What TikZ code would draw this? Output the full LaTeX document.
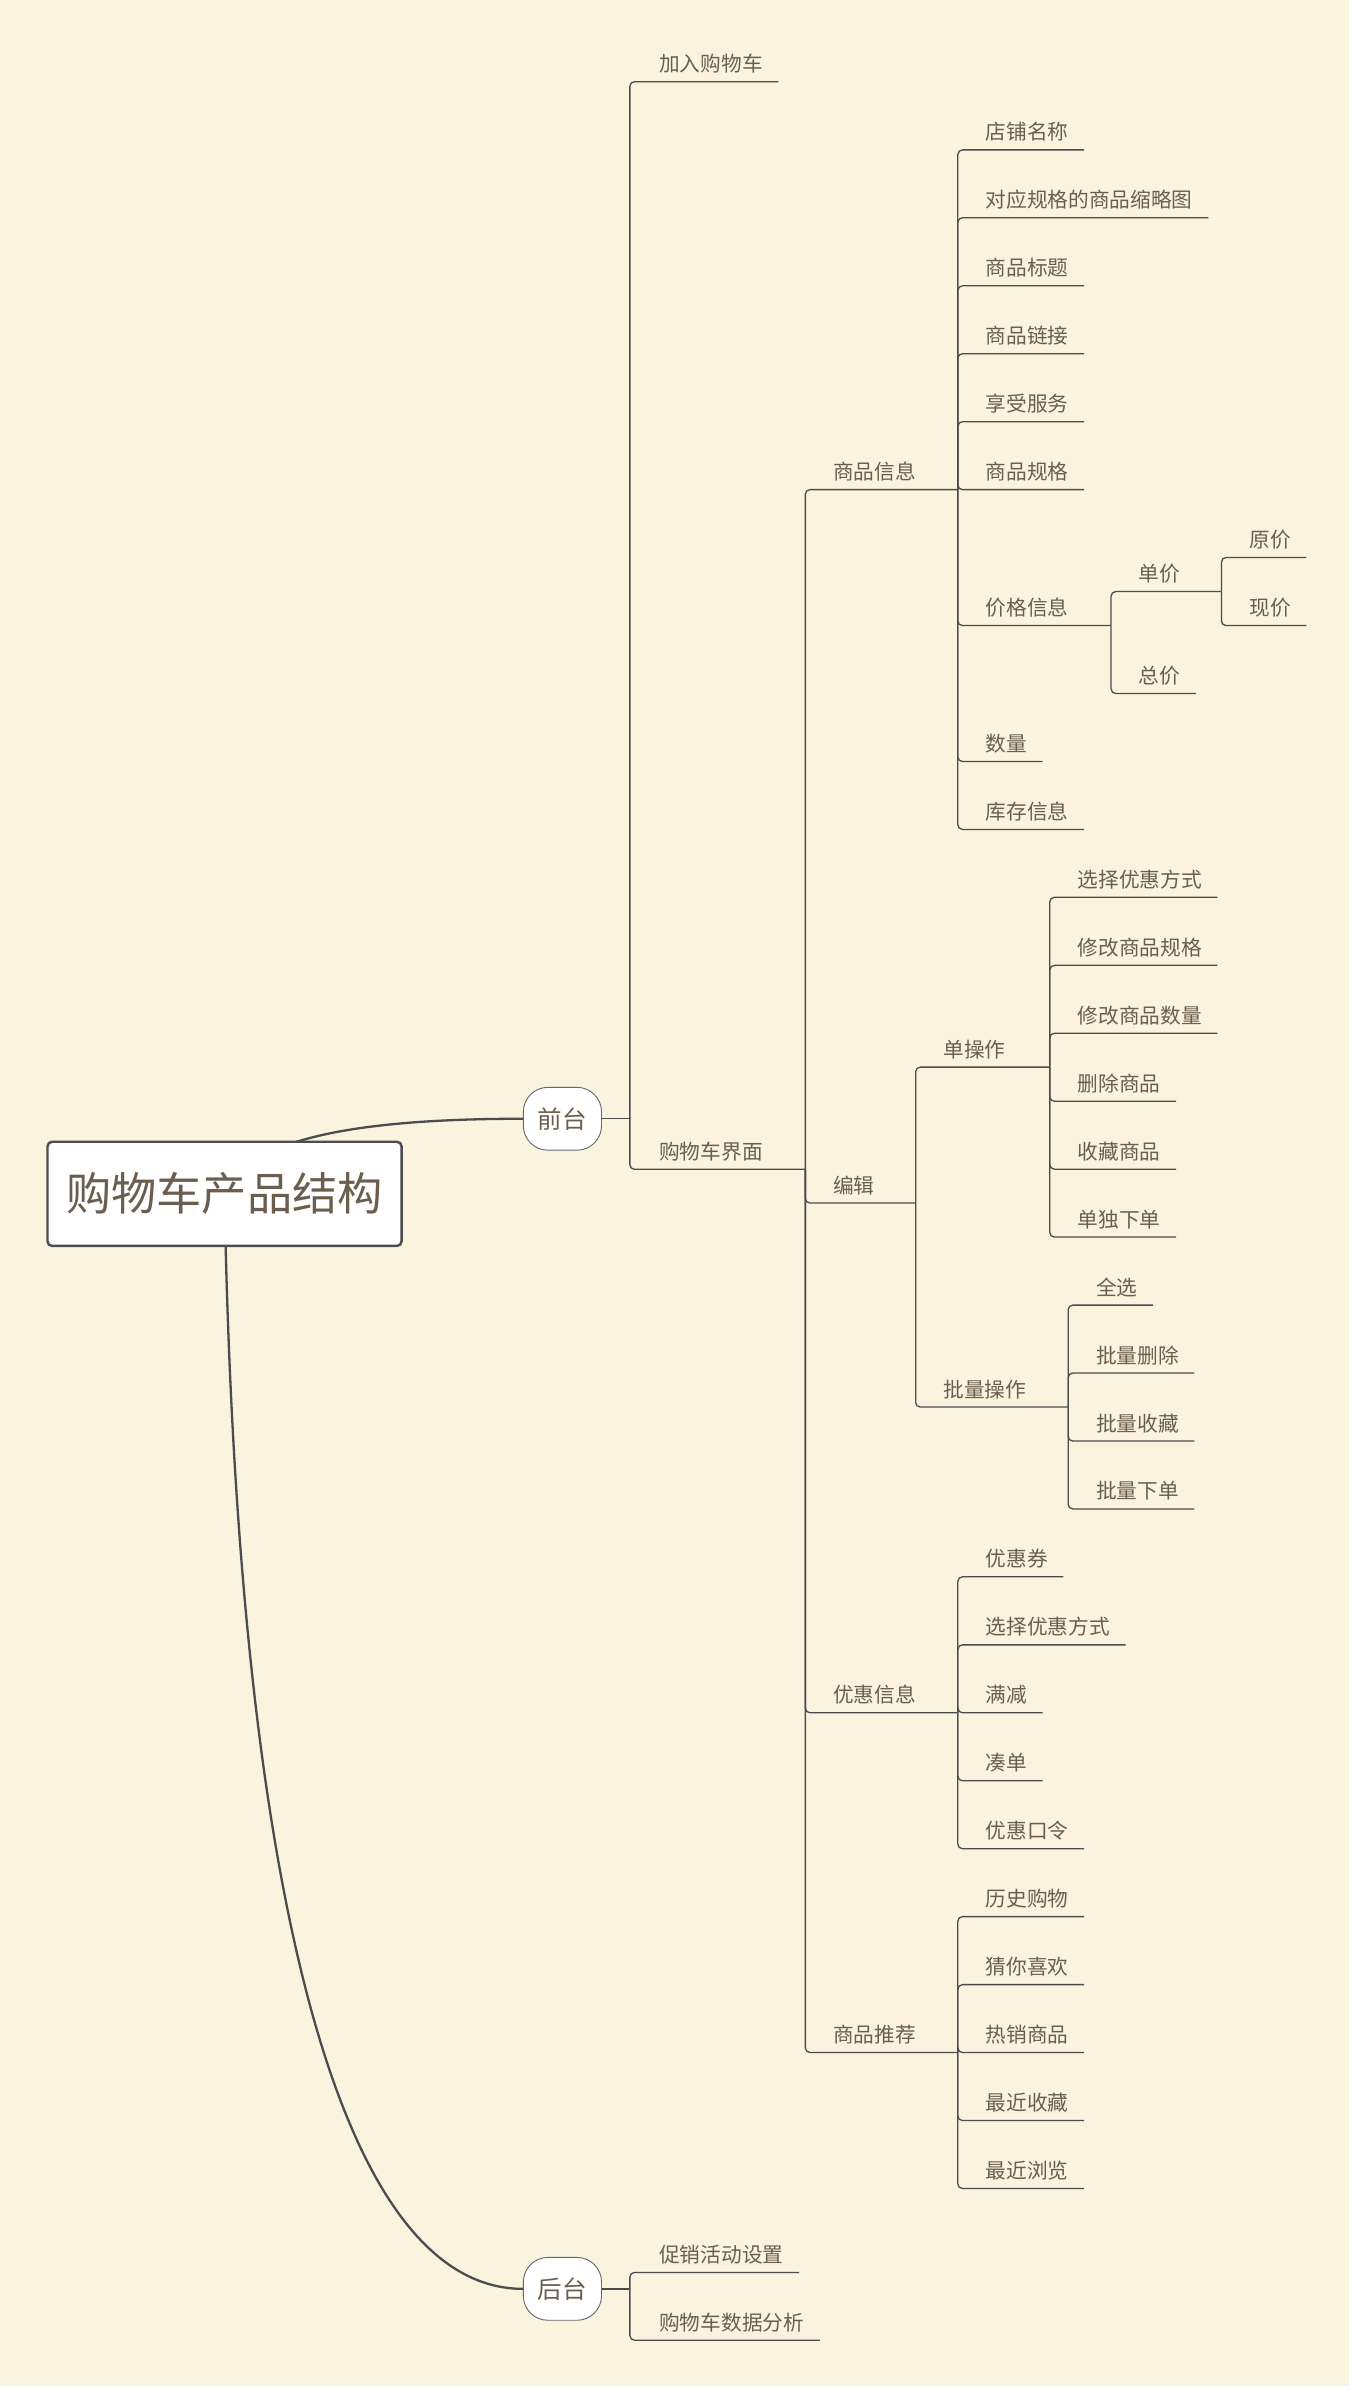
\documentclass[tikz,border=0pt]{standalone}
\usepackage{fontspec}
\usepackage{xcolor}
\usepackage{tikz}
\usetikzlibrary{backgrounds}
\newfontfamily\cjk{Noto Sans CJK SC}
\definecolor{paper}{HTML}{FAF3DE}
\definecolor{inkline}{HTML}{4A4C4E}
\definecolor{inktext}{HTML}{6C5E4E}

\begin{document}
\begin{tikzpicture}[
  x=1pt,
  y=-1pt,
  every node/.style={text=inktext},
  rootbox/.style={draw=inkline, line width=1.6pt, rounded corners=3pt, fill=white, minimum width=231pt, minimum height=68pt, inner sep=0pt, font=\cjk\fontsize{29.5}{32}\selectfont},
  sidebox/.style={draw=inkline!85, line width=0.6pt, rounded corners=16pt, fill=white, minimum width=51pt, minimum height=41pt, inner sep=0pt, font=\cjk\fontsize{16}{18}\selectfont},
  topic/.style={anchor=south west, inner xsep=0pt, inner ysep=6.3pt, text depth=0pt, font=\cjk\fontsize{13.5}{16}\selectfont},
  trunk/.style={draw=inkline, line width=1.5pt},
  branch/.style={draw=inkline, line width=0.85pt, rounded corners=3pt}
]
\useasboundingbox (0,0) rectangle (885,1568);

\node[rootbox] (root) at (146.5,779) {购物车产品结构};
\node[sidebox] (qt) at (367,730) {前台};
\node[sidebox] (ht) at (367,1493.5) {后台};

\coordinate (jq) at (411,730);
\coordinate (jh) at (411,1493.5);
\coordinate (jjm) at (525.5,763);
\coordinate (jxx) at (625,319.5);
\coordinate (jjg) at (725,408.2);
\coordinate (jdj) at (797,386);
\coordinate (jbj) at (597.5,785);
\coordinate (jdcz) at (685,696.3);
\coordinate (jplcz) at (697,918.1);
\coordinate (jyh) at (625,1117.6);
\coordinate (jtj) at (625,1339.3);

\node[topic] (jr) at (430,53.3) {加入购物车};
\node[topic] (jm) at (430,763) {购物车界面};

\node[topic] (xx) at (543.5,319.5) {商品信息};
\node[topic] (bj) at (543.5,785) {编辑};
\node[topic] (yh) at (543.5,1117.6) {优惠信息};
\node[topic] (tj) at (543.5,1339.3) {商品推荐};

\node[topic] (dpmc) at (643,97.8) {店铺名称};
\node[topic] (slt) at (643,142.1) {对应规格的商品缩略图};
\node[topic] (spbt) at (643,186.5) {商品标题};
\node[topic] (splj) at (643,230.8) {商品链接};
\node[topic] (xsfw) at (643,275.2) {享受服务};
\node[topic] (spgg) at (643,319.5) {商品规格};
\node[topic] (jgxx) at (643,408.2) {价格信息};
\node[topic] (sl) at (643,496.9) {数量};
\node[topic] (kcxx) at (643,541.2) {库存信息};

\node[topic] (dj) at (743,386) {单价};
\node[topic] (zj) at (743,452.5) {总价};
\node[topic] (yj) at (815,363.8) {原价};
\node[topic] (xj) at (815,408.2) {现价};

\node[topic] (dcz) at (615.5,696.3) {单操作};
\node[topic] (plcz) at (615.5,918.1) {批量操作};

\node[topic] (xzyh) at (703,585.5) {选择优惠方式};
\node[topic] (xggg) at (703,629.9) {修改商品规格};
\node[topic] (xgsl) at (703,674.2) {修改商品数量};
\node[topic] (sc) at (703,718.6) {删除商品};
\node[topic] (sccp) at (703,762.9) {收藏商品};
\node[topic] (ddxd) at (703,807.2) {单独下单};

\node[topic] (qx) at (715,851.6) {全选};
\node[topic] (plsc) at (715,895.9) {批量删除};
\node[topic] (plsz) at (715,940.3) {批量收藏};
\node[topic] (plxd) at (715,984.6) {批量下单};

\node[topic] (yhq) at (643,1028.9) {优惠券};
\node[topic] (yhfs) at (643,1073.3) {选择优惠方式};
\node[topic] (mj) at (643,1117.6) {满减};
\node[topic] (cd) at (643,1162) {凑单};
\node[topic] (yhkl) at (643,1206.3) {优惠口令};

\node[topic] (lsgw) at (643,1250.6) {历史购物};
\node[topic] (cnxh) at (643,1295) {猜你喜欢};
\node[topic] (rxsp) at (643,1339.3) {热销商品};
\node[topic] (zjsc) at (643,1383.7) {最近收藏};
\node[topic] (zjll) at (643,1428) {最近浏览};

\node[topic] (cxhd) at (430,1482.8) {促销活动设置};
\node[topic] (sjfx) at (430,1527) {购物车数据分析};

\begin{scope}[on background layer]
\fill[white] (0,0) rectangle (885,1568);
\fill[paper] (0,0) rectangle (880,1557);
\draw[trunk] (root.center) .. controls (160,745) and (225,730) .. (qt.west);
\draw[trunk] (root.center) .. controls (155,1250) and (225,1493.5) .. (ht.west);
\end{scope}

\draw[branch] (qt.east) -- (jq);
\draw[branch] (jq) |- (jr.south east) -- ++(10,0);
\draw[branch] (jq) |- (jm.south east) -- (jjm);

\draw[branch] (jjm) |- (xx.south east) -- (jxx);
\draw[branch] (jjm) |- (bj.south east) -- (jbj);
\draw[branch] (jjm) |- (yh.south east) -- (jyh);
\draw[branch] (jjm) |- (tj.south east) -- (jtj);

\draw[branch] (jxx) |- (dpmc.south east) -- ++(10,0);
\draw[branch] (jxx) |- (slt.south east) -- ++(10,0);
\draw[branch] (jxx) |- (spbt.south east) -- ++(10,0);
\draw[branch] (jxx) |- (splj.south east) -- ++(10,0);
\draw[branch] (jxx) |- (xsfw.south east) -- ++(10,0);
\draw[branch] (jxx) |- (spgg.south east) -- ++(10,0);
\draw[branch] (jxx) |- (jgxx.south east) -- (jjg);
\draw[branch] (jxx) |- (sl.south east) -- ++(10,0);
\draw[branch] (jxx) |- (kcxx.south east) -- ++(10,0);

\draw[branch] (jjg) |- (dj.south east) -- (jdj);
\draw[branch] (jjg) |- (zj.south east) -- ++(10,0);
\draw[branch] (jdj) |- (yj.south east) -- ++(10,0);
\draw[branch] (jdj) |- (xj.south east) -- ++(10,0);

\draw[branch] (jbj) |- (dcz.south east) -- (jdcz);
\draw[branch] (jbj) |- (plcz.south east) -- (jplcz);

\draw[branch] (jdcz) |- (xzyh.south east) -- ++(10,0);
\draw[branch] (jdcz) |- (xggg.south east) -- ++(10,0);
\draw[branch] (jdcz) |- (xgsl.south east) -- ++(10,0);
\draw[branch] (jdcz) |- (sc.south east) -- ++(10,0);
\draw[branch] (jdcz) |- (sccp.south east) -- ++(10,0);
\draw[branch] (jdcz) |- (ddxd.south east) -- ++(10,0);

\draw[branch] (jplcz) |- (qx.south east) -- ++(10,0);
\draw[branch] (jplcz) |- (plsc.south east) -- ++(10,0);
\draw[branch] (jplcz) |- (plsz.south east) -- ++(10,0);
\draw[branch] (jplcz) |- (plxd.south east) -- ++(10,0);

\draw[branch] (jyh) |- (yhq.south east) -- ++(10,0);
\draw[branch] (jyh) |- (yhfs.south east) -- ++(10,0);
\draw[branch] (jyh) |- (mj.south east) -- ++(10,0);
\draw[branch] (jyh) |- (cd.south east) -- ++(10,0);
\draw[branch] (jyh) |- (yhkl.south east) -- ++(10,0);

\draw[branch] (jtj) |- (lsgw.south east) -- ++(10,0);
\draw[branch] (jtj) |- (cnxh.south east) -- ++(10,0);
\draw[branch] (jtj) |- (rxsp.south east) -- ++(10,0);
\draw[branch] (jtj) |- (zjsc.south east) -- ++(10,0);
\draw[branch] (jtj) |- (zjll.south east) -- ++(10,0);

\draw[branch] (ht.east) -- (jh);
\draw[branch] (jh) |- (cxhd.south east) -- ++(10,0);
\draw[branch] (jh) |- (sjfx.south east) -- ++(10,0);
\end{tikzpicture}
\end{document}
